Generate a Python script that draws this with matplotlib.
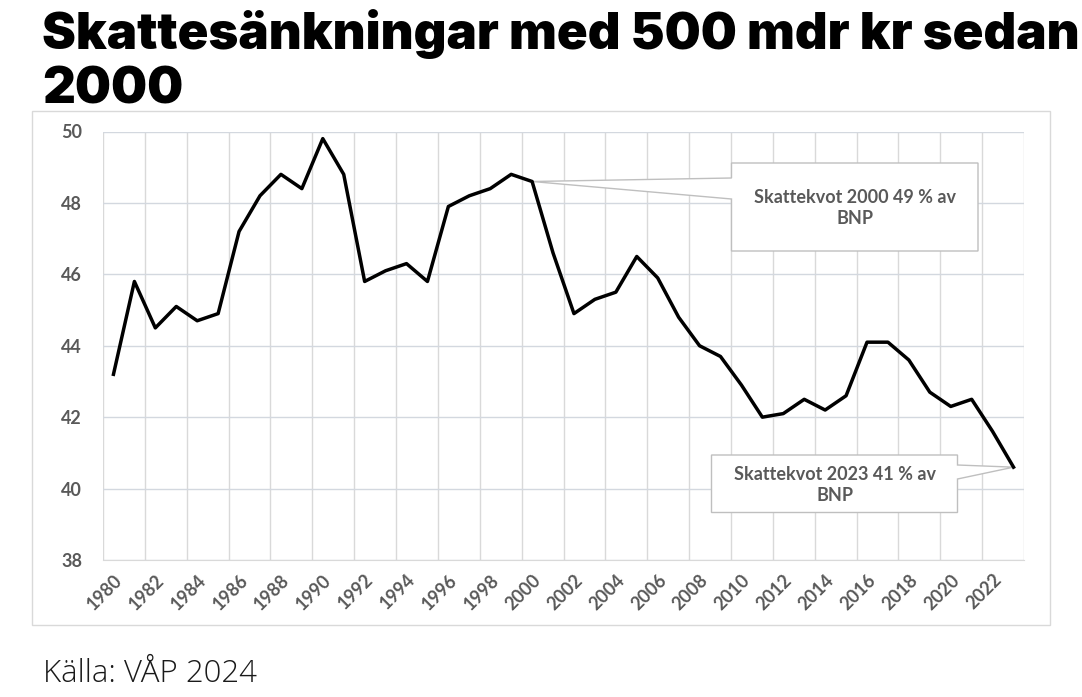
import matplotlib
matplotlib.use('Agg')
import matplotlib.pyplot as plt
from matplotlib.patches import Polygon, Rectangle
from matplotlib.transforms import IdentityTransform
import numpy as np

# skattekvot, % av BNP
years = list(range(1980, 2024))
skattekvot = [43.2, 45.8, 44.5, 45.1, 44.7, 44.9, 47.2, 48.2, 48.8, 48.4,
              49.8, 48.8, 45.8, 46.1, 46.3, 45.8, 47.9, 48.2, 48.4, 48.8,
              48.6, 46.6, 44.9, 45.3, 45.5, 46.5, 45.9, 44.8, 44.0, 43.7,
              42.9, 42.0, 42.1, 42.5, 42.2, 42.6, 44.1, 44.1, 43.6, 42.7,
              42.3, 42.5, 41.6, 40.6]
yticks = [38, 40, 42, 44, 46, 48, 50]
note_years = [2000, 2023]
note_texts = ['Skattekvot 2000 49 % av\nBNP', 'Skattekvot 2023 41 % av\nBNP']

title1 = 'Skattesänkningar med 500 mdr kr sedan'
title2 = '2000'
source = 'Källa: VÅP 2024'

W, H = 1082, 697
GREY = '#595959'
GRID = '#d9d9d9'

fig = plt.figure(figsize=(W / 100, H / 100), dpi=100)
renderer = fig.canvas.get_renderer()


def fx(x):
    return x / W


def fy(y):
    return 1 - y / H


def fit_width(t, width):
    # scale the font so the text gets the given width in pixels
    fs = t.get_fontsize()
    bb = t.get_window_extent(renderer)
    t.set_fontsize(fs * width / bb.width)
    return t.get_fontsize()


# outer chart frame
fig.add_artist(Rectangle((fx(32), fy(625)), (1050 - 32) / W, (625 - 111) / H,
                         transform=fig.transFigure, fill=False, ec=GRID, lw=1))

ax = fig.add_axes([fx(103), fy(560), (1024 - 103) / W, (560 - 131.5) / H])
ax.plot(years, skattekvot, color='black', lw=2.5, zorder=3)
ax.set_xlim(years[0] - 0.5, years[-1] + 0.5)
ax.set_ylim(yticks[0], yticks[-1])
ax.set_yticks(yticks)
ax.set_xticks(years[::2])
ax.set_xticks(np.arange(years[0] - 0.5, years[-1] + 1, 2), minor=True)
ax.grid(axis='y', color='#d3d8df', lw=1)
ax.grid(axis='x', which='minor', color=GRID, lw=1)
ax.tick_params(which='both', length=0)
ax.tick_params(axis='y', pad=15)
ax.tick_params(axis='x', pad=8)
for s in ['left', 'right', 'top']:
    ax.spines[s].set_visible(False)
ax.spines['bottom'].set_color(GRID)
for lab in ax.get_yticklabels():
    lab.set_fontfamily('Lato')
    lab.set_fontweight('bold')
    lab.set_fontsize(13)
    lab.set_color(GREY)
for lab in ax.get_xticklabels():
    lab.set_fontfamily('Lato')
    lab.set_fontweight('bold')
    lab.set_fontsize(13)
    lab.set_color(GREY)
    lab.set_rotation(45)
    lab.set_ha('right')
    lab.set_rotation_mode('anchor')


def callout(box, base, side, year, text):
    # box: left, top, right, bottom in image pixels; base: wedge y's on box edge
    l, t, r, b = box
    i = years.index(year)
    tx, ty = ax.transData.transform((year, skattekvot[i]))
    if side == 'left':
        pts = [(l, t), (r, t), (r, b), (l, b), (l, base[1]), None, (l, base[0])]
    else:
        pts = [(l, t), (r, t), (r, base[0]), None, (r, base[1]), (r, b), (l, b)]
    verts = []
    for p in pts:
        if p is None:
            verts.append((tx, ty))
        else:
            verts.append((p[0], H - p[1]))
    ax.add_patch(Polygon(verts, closed=True, transform=IdentityTransform(),
                         fc='white', ec='#bfbfbf', lw=1, zorder=2.5))
    fig.text(fx((l + r) / 2), fy((t + b) / 2 + 1), text, ha='center', va='center',
             fontsize=13, fontweight='bold', family='Lato', color=GREY,
             linespacing=1.3, zorder=5)


callout((731.5, 163, 978, 251), (178, 199), 'left', note_years[0], note_texts[0])
callout((711.5, 455, 957.5, 512.5), (465, 479), 'right', note_years[1], note_texts[1])

# title, sized to fill the width like the original
t1 = fig.text(fx(42), fy(49), title1, ha='left', va='baseline', fontsize=40,
              fontweight='black', family='Inter', color='black')
fs = fit_width(t1, 1080 - 42)
fig.text(fx(42), fy(103), title2, ha='left', va='baseline', fontsize=fs,
         fontweight='black', family='Inter', color='black')

t3 = fig.text(fx(43), fy(682), source, ha='left', va='baseline', fontsize=16,
              family='Open Sans', fontweight='light', color='#1a1a1a')
fit_width(t3, 214)

fig.savefig('out.png', dpi=100)
